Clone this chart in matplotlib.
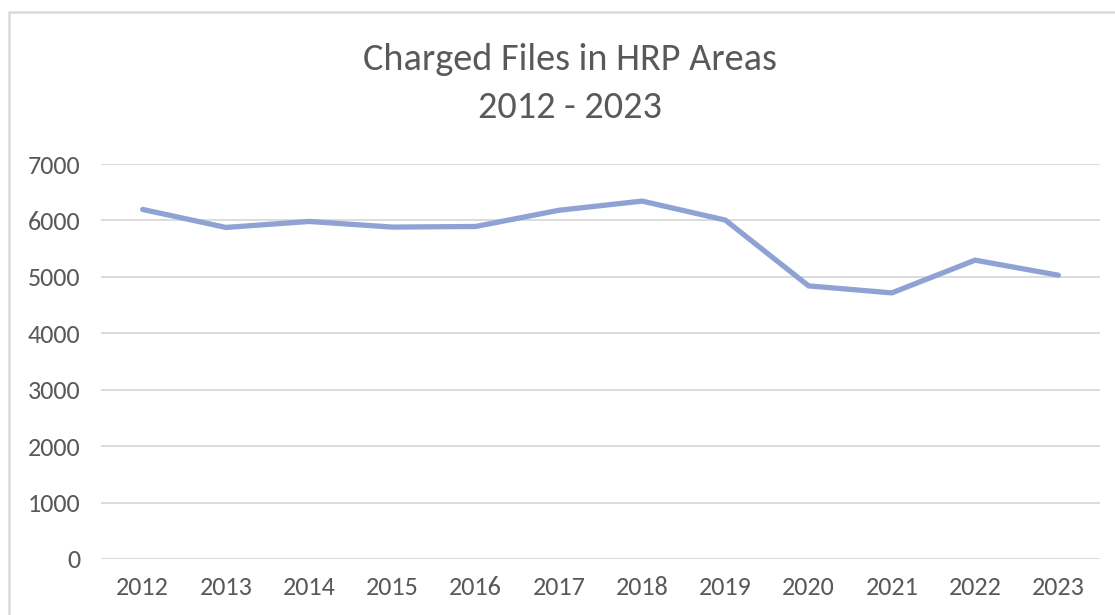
import matplotlib
matplotlib.use('Agg')
import matplotlib.pyplot as plt
from matplotlib.patches import Rectangle

years = ['2012', '2013', '2014', '2015', '2016', '2017',
         '2018', '2019', '2020', '2021', '2022', '2023']
charged_files = [6195, 5876, 5982, 5882, 5893, 6180,
                 6343, 6006, 4840, 4716, 5296, 5030]
y_ticks = [0, 1000, 2000, 3000, 4000, 5000, 6000, 7000]

plt.rcParams['font.family'] = ['Carlito', 'Liberation Sans Narrow', 'DejaVu Sans']
text_color = '#595959'

fig = plt.figure(figsize=(11.15, 6.15), dpi=100)
ax = fig.add_axes([0.0906, 0.0911, 0.8959, 0.6422])

# chart frame like the Excel chart area border
fig.patches.append(Rectangle((0.0085, -0.05), 1.2, 1.0305, transform=fig.transFigure,
                             fill=False, edgecolor='#d9d9d9', linewidth=1.8))

x = range(len(years))
ax.plot(x, charged_files, color='#8fa2d4', linewidth=3.8, solid_joinstyle='miter',
        solid_capstyle='round', zorder=3)

ax.set_xlim(-0.5, len(years) - 0.5)
ax.set_ylim(0, 7000)
ax.set_yticks(y_ticks)
ax.set_xticks(list(x))
ax.set_xticklabels(years)
ax.yaxis.grid(True, color='#d9d9d9', linewidth=1.3)
ax.set_axisbelow(True)
for s in ax.spines.values():
    s.set_visible(False)
ax.tick_params(axis='both', length=0, labelsize=18.8, colors=text_color)
ax.tick_params(axis='y', pad=15)
ax.tick_params(axis='x', pad=12.5)

fig.text(0.511, 0.8862, 'Charged Files in HRP Areas', ha='center', va='baseline',
         fontsize=27.5, color=text_color)
fig.text(0.511, 0.8081, '2012 - 2023', ha='center', va='baseline',
         fontsize=27.5, color=text_color)

fig.savefig('out.png', dpi=100)
